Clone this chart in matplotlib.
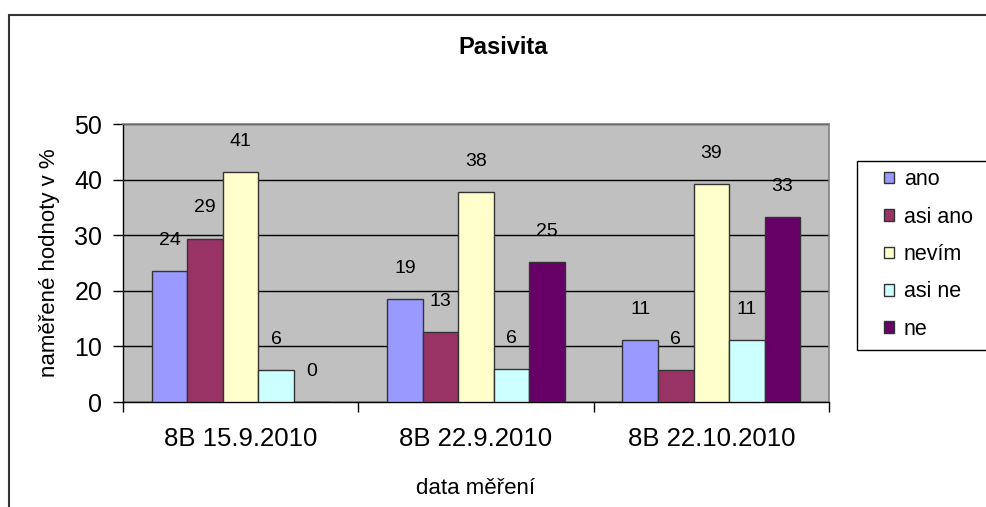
import matplotlib
matplotlib.use("Agg")
import matplotlib.pyplot as plt
from matplotlib.patches import Rectangle
import numpy as np

plt.rcParams['font.family'] = ['Liberation Sans', 'DejaVu Sans']

# data
kategorie = ["8B 15.9.2010", "8B 22.9.2010", "8B 22.10.2010"]
serie = ["ano", "asi ano", "nevím", "asi ne", "ne"]
ano = [23.6, 18.6, 11.2]
asi_ano = [29.4, 12.6, 5.7]
nevim = [41.3, 37.7, 39.2]
asi_ne = [5.8, 6.0, 11.2]
ne = [0.0, 25.2, 33.3]
hodnoty = [ano, asi_ano, nevim, asi_ne, ne]
barvy = ["#9999FF", "#993366", "#FFFFCC", "#CCFFFF", "#660066"]

fig = plt.figure(figsize=(9.86, 5.07), dpi=100)

# bordo esterno (tipo Excel)
fig.patches.append(Rectangle((9/986, -0.2), 1.5, 1.2 - 15/507,
                             transform=fig.transFigure, fill=False,
                             edgecolor="#333333", linewidth=1.5))

ax = fig.add_axes([123/986, 1-402/507, (829-123)/986, (402-124)/507])
ax.set_facecolor("#C0C0C0")

x = np.arange(len(kategorie))
w = 0.151
barre = []
for i, (nome, val, col) in enumerate(zip(serie, hodnoty, barvy)):
    b = ax.bar(x + (i-2)*w, val, w, color=col, edgecolor="#333333",
               linewidth=1, label=nome, zorder=3)
    barre.append(b)
    for xi, v in zip(x + (i-2)*w, val):
        ax.annotate(f"{v:.0f}", (xi, v), xytext=(0, 22), textcoords="offset points",
                    ha="center", va="center", fontsize=14, zorder=4)

ax.set_xlim(-0.5, 2.5)
ax.set_ylim(0, 50)
ax.set_yticks([0, 10, 20, 30, 40, 50])
ax.yaxis.grid(True, color="black", linewidth=1, zorder=1)
ax.set_axisbelow(True)

ax.set_xticks(x)
ax.set_xticklabels(kategorie, fontsize=18.5)
ax.set_xticks([-0.5, 0.5, 1.5, 2.5], minor=True)
ax.tick_params(axis="x", which="major", length=0, pad=18)
ax.tick_params(axis="x", which="minor", length=7, width=1, direction="out")
ax.tick_params(axis="y", labelsize=18, length=7, width=1, direction="out", pad=8)

for s in ("top", "right"):
    ax.spines[s].set_color("#808080")
    ax.spines[s].set_linewidth(1.2)
for s in ("left", "bottom"):
    ax.spines[s].set_color("black")
    ax.spines[s].set_linewidth(1)

ax.set_ylabel("naměřené hodnoty v %", fontsize=16)
ax.yaxis.set_label_coords((60-123)/706, 0.5)
fig.text(476/986, 1-488/507, "data měření", ha="center", va="center", fontsize=16)
fig.text(503/986, 1-47/507, "Pasivita", ha="center", va="center",
         fontsize=17, fontweight="bold")

# legenda
fig.patches.append(Rectangle((857/986, 1-350/507), 0.5, (350-161)/507,
                             transform=fig.transFigure, fill=True, facecolor="white",
                             edgecolor="black", linewidth=1))
leg = fig.legend(handles=barre, labels=serie, loc="upper left",
                 bbox_to_anchor=(865/986, 1-150/507), frameon=False,
                 fontsize=15.5, handlelength=0.45, handleheight=0.45,
                 handletextpad=0.45, labelspacing=0.76)

fig.savefig("out.png", dpi=100)
